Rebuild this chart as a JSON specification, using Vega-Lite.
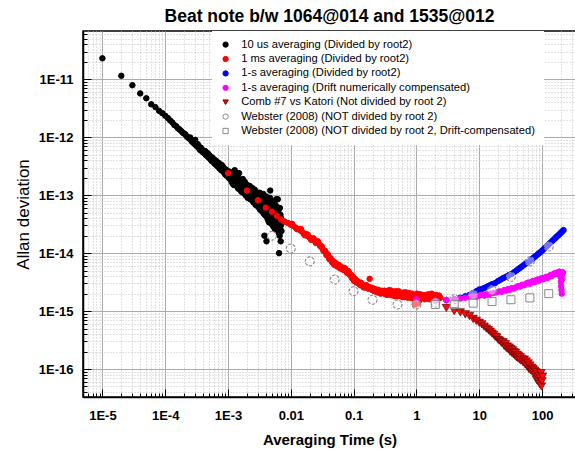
{
"$schema": "https://vega.github.io/schema/vega-lite/v6.json",
"width": 493, "height": 366,
"autosize": {"type": "none"},
"padding": {"left": 83, "top": 31, "right": 0, "bottom": 53},
"background": "white",
"title": {"text": "Beat note b/w 1064@014 and 1535@012", "font": "Liberation Sans", "fontSize": 17.5, "fontWeight": "bold", "color": "black", "anchor": "middle", "offset": 6},
"config": {"view": {"stroke": "black", "strokeWidth": 1.5},
"legend": {"fillColor": "white", "padding": 8, "labelFont": "Liberation Sans", "labelFontSize": 11.2, "labelColor": "black", "labelLimit": 400, "symbolSize": 28, "rowPadding": 2.4, "labelOffset": 10, "symbolStrokeWidth": 1}},
"datasets": {
"series": [
{"s":"A","name":"10 us averaging (Divided by root2)"},
{"s":"B","name":"1 ms averaging (Divided by root2)"},
{"s":"C","name":"1-s averaging (Divided by root2)"},
{"s":"D","name":"1-s averaging (Drift numerically compensated)"},
{"s":"E","name":"Comb #7 vs  Katori (Not divided by root 2)"},
{"s":"F","name":"Webster (2008) (NOT divided by root 2)"},
{"s":"G","name":"Webster (2008) (NOT divided by root 2, Drift-compensated)"}
],
"pts": [
{"s":"A","t":1e-5,"a":2.3e-11},{"s":"A","t":2e-5,"a":1.15e-11},{"s":"A","t":3e-5,"a":7.9e-12},{"s":"A","t":4e-5,"a":5.7e-12},{"s":"A","t":5e-5,"a":4.7e-12},{"s":"A","t":6e-5,"a":3.7e-12},{"s":"A","t":7e-5,"a":3.3e-12},{"s":"A","t":8e-5,"a":2.85e-12},{"s":"A","t":9e-5,"a":2.6e-12},{"s":"A","t":1e-4,"a":2.35e-12},
{"s":"A","t":1.1e-4,"a":2.15e-12},{"s":"A","t":1.2e-4,"a":1.95e-12},{"s":"A","t":1.3e-4,"a":1.8e-12},{"s":"A","t":1.4e-4,"a":1.62e-12},{"s":"A","t":1.5e-4,"a":1.55e-12},{"s":"A","t":1.6e-4,"a":1.42e-12},{"s":"A","t":1.7e-4,"a":1.36e-12},{"s":"A","t":1.8e-4,"a":1.28e-12},{"s":"A","t":1.9e-4,"a":1.2e-12},{"s":"A","t":2e-4,"a":1.16e-12},
{"s":"A","t":2.1e-4,"a":1.12e-12},{"s":"A","t":2.2e-4,"a":1.03e-12},{"s":"A","t":2.3e-4,"a":1.0e-12},{"s":"A","t":2.4e-4,"a":9.5e-13},{"s":"A","t":2.5e-4,"a":9.9e-13},{"s":"A","t":2.6e-4,"a":8.8e-13},{"s":"A","t":2.7e-4,"a":8.3e-13},{"s":"A","t":2.8e-4,"a":8.6e-13},{"s":"A","t":2.9e-4,"a":7.7e-13},{"s":"A","t":3e-4,"a":9.0e-13},
{"s":"A","t":3.1e-4,"a":7.2e-13},{"s":"A","t":3.2e-4,"a":7.0e-13},{"s":"A","t":3.3e-4,"a":7.6e-13},{"s":"A","t":3.4e-4,"a":6.5e-13},{"s":"A","t":3.5e-4,"a":6.8e-13},{"s":"A","t":3.6e-4,"a":6.0e-13},{"s":"A","t":3.7e-4,"a":6.6e-13},{"s":"A","t":3.8e-4,"a":6.2e-13},{"s":"A","t":3.9e-4,"a":5.6e-13},{"s":"A","t":4e-4,"a":5.9e-13},
{"s":"A","t":4.2e-4,"a":5.3e-13},{"s":"A","t":4.3e-4,"a":5.8e-13},{"s":"A","t":4.4e-4,"a":5.0e-13},{"s":"A","t":4.5e-4,"a":5.5e-13},{"s":"A","t":4.6e-4,"a":4.8e-13},{"s":"A","t":4.7e-4,"a":5.3e-13},{"s":"A","t":4.8e-4,"a":4.6e-13},{"s":"A","t":4.9e-4,"a":5.1e-13},{"s":"A","t":5e-4,"a":4.4e-13},{"s":"A","t":5.2e-4,"a":4.7e-13},
{"s":"A","t":5.3e-4,"a":4.1e-13},{"s":"A","t":5.4e-4,"a":4.6e-13},{"s":"A","t":5.5e-4,"a":3.9e-13},{"s":"A","t":5.7e-4,"a":4.4e-13},{"s":"A","t":5.8e-4,"a":3.8e-13},{"s":"A","t":6e-4,"a":4.1e-13},{"s":"A","t":6.1e-4,"a":3.5e-13},{"s":"A","t":6.2e-4,"a":4.0e-13},{"s":"A","t":6.4e-4,"a":3.4e-13},{"s":"A","t":6.5e-4,"a":3.9e-13},
{"s":"A","t":6.7e-4,"a":3.2e-13},{"s":"A","t":6.8e-4,"a":3.7e-13},{"s":"A","t":7e-4,"a":3.1e-13},{"s":"A","t":7.1e-4,"a":3.6e-13},{"s":"A","t":7.3e-4,"a":2.9e-13},{"s":"A","t":7.5e-4,"a":3.4e-13},{"s":"A","t":7.6e-4,"a":3.0e-13},{"s":"A","t":7.8e-4,"a":2.7e-13},{"s":"A","t":8e-4,"a":3.3e-13},{"s":"A","t":8.1e-4,"a":2.8e-13},
{"s":"A","t":8.3e-4,"a":3.1e-13},{"s":"A","t":8.5e-4,"a":2.5e-13},{"s":"A","t":8.6e-4,"a":2.9e-13},{"s":"A","t":8.8e-4,"a":2.6e-13},{"s":"A","t":9e-4,"a":2.3e-13},{"s":"A","t":9.1e-4,"a":2.8e-13},{"s":"A","t":9.3e-4,"a":2.2e-13},{"s":"A","t":9.5e-4,"a":2.7e-13},{"s":"A","t":9.7e-4,"a":2.3e-13},{"s":"A","t":1e-3,"a":2.6e-13},
{"s":"A","t":1.02e-3,"a":2.0e-13},{"s":"A","t":1.05e-3,"a":2.3e-13},{"s":"A","t":1.08e-3,"a":1.9e-13},{"s":"A","t":1.1e-3,"a":2.5e-13},{"s":"A","t":1.13e-3,"a":1.75e-13},{"s":"A","t":1.15e-3,"a":2.1e-13},{"s":"A","t":1.18e-3,"a":1.6e-13},{"s":"A","t":1.2e-3,"a":2.2e-13},{"s":"A","t":1.23e-3,"a":1.5e-13},{"s":"A","t":1.25e-3,"a":1.9e-13},
{"s":"A","t":1.28e-3,"a":2.7e-13},{"s":"A","t":1.3e-3,"a":1.7e-13},{"s":"A","t":1.33e-3,"a":2.3e-13},{"s":"A","t":1.35e-3,"a":1.45e-13},{"s":"A","t":1.38e-3,"a":1.9e-13},{"s":"A","t":1.4e-3,"a":1.6e-13},{"s":"A","t":1.43e-3,"a":2.1e-13},{"s":"A","t":1.45e-3,"a":1.3e-13},{"s":"A","t":1.48e-3,"a":1.7e-13},{"s":"A","t":1.5e-3,"a":2.4e-13},
{"s":"A","t":1.53e-3,"a":1.5e-13},{"s":"A","t":1.55e-3,"a":1.25e-13},{"s":"A","t":1.58e-3,"a":1.8e-13},{"s":"A","t":1.6e-3,"a":1.4e-13},{"s":"A","t":1.63e-3,"a":1.15e-13},{"s":"A","t":1.65e-3,"a":1.6e-13},{"s":"A","t":1.7e-3,"a":1.3e-13},{"s":"A","t":1.72e-3,"a":1.9e-13},{"s":"A","t":1.75e-3,"a":1.1e-13},{"s":"A","t":1.8e-3,"a":1.45e-13},
{"s":"A","t":1.83e-3,"a":1.2e-13},{"s":"A","t":1.85e-3,"a":1.7e-13},{"s":"A","t":1.9e-3,"a":1.0e-13},{"s":"A","t":1.93e-3,"a":1.35e-13},{"s":"A","t":1.95e-3,"a":1.55e-13},{"s":"A","t":2e-3,"a":1.15e-13},{"s":"A","t":2.05e-3,"a":9.0e-14},{"s":"A","t":2.1e-3,"a":1.3e-13},{"s":"A","t":2.15e-3,"a":1.05e-13},{"s":"A","t":2.2e-3,"a":1.45e-13},
{"s":"A","t":2.25e-3,"a":8.5e-14},{"s":"A","t":2.3e-3,"a":1.2e-13},{"s":"A","t":2.35e-3,"a":9.5e-14},{"s":"A","t":2.4e-3,"a":1.35e-13},{"s":"A","t":2.45e-3,"a":8.0e-14},{"s":"A","t":2.5e-3,"a":1.1e-13},{"s":"A","t":2.55e-3,"a":7.5e-14},{"s":"A","t":2.6e-3,"a":1.0e-13},{"s":"A","t":2.65e-3,"a":1.25e-13},{"s":"A","t":2.7e-3,"a":8.2e-14},
{"s":"A","t":2.75e-3,"a":6.8e-14},{"s":"A","t":2.8e-3,"a":1.15e-13},{"s":"A","t":2.85e-3,"a":9.0e-14},{"s":"A","t":2.9e-3,"a":7.0e-14},{"s":"A","t":2.95e-3,"a":1.05e-13},{"s":"A","t":3e-3,"a":8.0e-14},{"s":"A","t":3.05e-3,"a":6.2e-14},{"s":"A","t":3.1e-3,"a":9.5e-14},{"s":"A","t":3.15e-3,"a":7.2e-14},{"s":"A","t":3.2e-3,"a":1.1e-13},
{"s":"A","t":3.25e-3,"a":5.6e-14},{"s":"A","t":3.3e-3,"a":8.5e-14},{"s":"A","t":3.35e-3,"a":6.8e-14},{"s":"A","t":3.4e-3,"a":9.8e-14},{"s":"A","t":3.5e-3,"a":5.2e-14},{"s":"A","t":3.55e-3,"a":7.6e-14},{"s":"A","t":3.6e-3,"a":6.0e-14},{"s":"A","t":3.65e-3,"a":1.05e-13},{"s":"A","t":3.7e-3,"a":4.8e-14},{"s":"A","t":3.75e-3,"a":8.8e-14},
{"s":"A","t":3.8e-3,"a":2.0e-14},{"s":"A","t":3.85e-3,"a":6.5e-14},{"s":"A","t":3.9e-3,"a":4.5e-14},{"s":"A","t":3.95e-3,"a":7.8e-14},{"s":"A","t":4e-3,"a":5.4e-14},{"s":"A","t":4.05e-3,"a":9.5e-14},{"s":"A","t":4.1e-3,"a":1.6e-14},{"s":"A","t":4.15e-3,"a":4.2e-14},{"s":"A","t":4.2e-3,"a":7.0e-14},{"s":"A","t":4.25e-3,"a":5.0e-14},
{"s":"A","t":4.3e-3,"a":3.8e-14},{"s":"A","t":4.35e-3,"a":8.2e-14},{"s":"A","t":4.4e-3,"a":6.0e-14},{"s":"A","t":4.45e-3,"a":4.4e-14},{"s":"A","t":4.5e-3,"a":3.4e-14},{"s":"A","t":4.55e-3,"a":6.6e-14},{"s":"A","t":4.6e-3,"a":5.2e-14},{"s":"A","t":4.65e-3,"a":9.0e-14},{"s":"A","t":4.7e-3,"a":1.2e-13},{"s":"A","t":4.75e-3,"a":3.9e-14},
{"s":"A","t":4.8e-3,"a":4.8e-14},{"s":"A","t":4.85e-3,"a":7.4e-14},{"s":"A","t":4.9e-3,"a":3.2e-14},{"s":"A","t":4.95e-3,"a":5.8e-14},{"s":"A","t":5e-3,"a":4.2e-14},{"s":"A","t":5.05e-3,"a":8.0e-14},{"s":"A","t":5.1e-3,"a":3.6e-14},{"s":"A","t":5.15e-3,"a":6.4e-14},{"s":"A","t":5.2e-3,"a":4.6e-14},{"s":"A","t":5.25e-3,"a":2.9e-14},
{"s":"A","t":5.3e-3,"a":5.4e-14},{"s":"A","t":5.35e-3,"a":7.2e-14},{"s":"A","t":5.4e-3,"a":3.4e-14},{"s":"A","t":5.45e-3,"a":4.4e-14},{"s":"A","t":5.5e-3,"a":6.0e-14},{"s":"A","t":5.55e-3,"a":2.6e-14},{"s":"A","t":5.6e-3,"a":5.0e-14},{"s":"A","t":5.65e-3,"a":3.8e-14},{"s":"A","t":5.7e-3,"a":6.8e-14},{"s":"A","t":5.75e-3,"a":3.0e-14},
{"s":"A","t":5.8e-3,"a":4.6e-14},{"s":"A","t":5.85e-3,"a":8.5e-14},{"s":"A","t":5.9e-3,"a":3.5e-14},{"s":"A","t":5.95e-3,"a":5.5e-14},{"s":"A","t":6e-3,"a":2.5e-14},{"s":"A","t":6.05e-3,"a":4.2e-14},{"s":"A","t":6.1e-3,"a":6.2e-14},{"s":"A","t":6.15e-3,"a":3.2e-14},{"s":"A","t":6.2e-3,"a":8.5e-14},{"s":"A","t":6.25e-3,"a":4.8e-14},
{"s":"A","t":6.3e-3,"a":2.8e-14},{"s":"A","t":6.35e-3,"a":3.9e-14},{"s":"A","t":6.4e-3,"a":5.6e-14},{"s":"A","t":6.45e-3,"a":2.2e-14},{"s":"A","t":6.5e-3,"a":1.0e-14},{"s":"A","t":6.55e-3,"a":4.4e-14},{"s":"A","t":6.6e-3,"a":3.3e-14},{"s":"A","t":6.65e-3,"a":2.0e-14},{"s":"A","t":6.7e-3,"a":6.0e-14},{"s":"A","t":6.75e-3,"a":3.6e-14},
{"s":"A","t":6.8e-3,"a":2.6e-14},{"s":"A","t":6.85e-3,"a":4.6e-14},{"s":"A","t":6.9e-3,"a":1.6e-14},{"s":"A","t":6.95e-3,"a":3.0e-14},{"s":"A","t":7e-3,"a":4.0e-14},{"s":"A","t":7.1e-3,"a":2.4e-14},{"s":"A","t":7.2e-3,"a":3.4e-14},
{"s":"B","t":0.001,"a":2.4e-13},{"s":"B","t":0.002,"a":1.2e-13},{"s":"B","t":0.003,"a":8.2e-14},{"s":"B","t":0.004,"a":6.1e-14},{"s":"B","t":0.005,"a":5.2e-14},{"s":"B","t":0.006,"a":4.4e-14},{"s":"B","t":0.007,"a":3.8e-14},{"s":"B","t":0.008,"a":3.5e-14},{"s":"B","t":0.009,"a":3.3e-14},{"s":"B","t":0.01,"a":3.1e-14},
{"s":"B","t":0.011,"a":2.95e-14},{"s":"B","t":0.012,"a":2.75e-14},{"s":"B","t":0.013,"a":2.6e-14},{"s":"B","t":0.014,"a":2.5e-14},{"s":"B","t":0.015,"a":2.35e-14},{"s":"B","t":0.016,"a":2.2e-14},{"s":"B","t":0.017,"a":2.15e-14},{"s":"B","t":0.018,"a":2.0e-14},{"s":"B","t":0.019,"a":1.95e-14},{"s":"B","t":0.02,"a":1.85e-14},
{"s":"B","t":0.0105,"a":3.2e-14},{"s":"B","t":0.0125,"a":2.6e-14},{"s":"B","t":0.0145,"a":2.6e-14},{"s":"B","t":0.0165,"a":2.05e-14},{"s":"B","t":0.0185,"a":2.1e-14},{"s":"B","t":0.021,"a":1.7e-14},{"s":"B","t":0.023,"a":1.8e-14},{"s":"B","t":0.025,"a":1.5e-14},{"s":"B","t":0.027,"a":1.6e-14},{"s":"B","t":0.029,"a":1.35e-14},
{"s":"B","t":0.022,"a":1.75e-14},{"s":"B","t":0.024,"a":1.65e-14},{"s":"B","t":0.026,"a":1.55e-14},{"s":"B","t":0.028,"a":1.45e-14},{"s":"B","t":0.03,"a":1.3e-14},{"s":"B","t":0.032,"a":1.2e-14},{"s":"B","t":0.034,"a":1.1e-14},{"s":"B","t":0.036,"a":1.02e-14},{"s":"B","t":0.038,"a":9.4e-15},{"s":"B","t":0.04,"a":8.6e-15},
{"s":"B","t":0.031,"a":1.32e-14},{"s":"B","t":0.033,"a":1.1e-14},{"s":"B","t":0.035,"a":1.1e-14},{"s":"B","t":0.037,"a":9.2e-15},{"s":"B","t":0.039,"a":9.5e-15},{"s":"B","t":0.041,"a":7.9e-15},{"s":"B","t":0.043,"a":8.2e-15},{"s":"B","t":0.045,"a":7.0e-15},{"s":"B","t":0.047,"a":7.3e-15},{"s":"B","t":0.049,"a":6.3e-15},
{"s":"B","t":0.042,"a":8.0e-15},{"s":"B","t":0.044,"a":7.6e-15},{"s":"B","t":0.046,"a":7.0e-15},{"s":"B","t":0.048,"a":6.8e-15},{"s":"B","t":0.05,"a":6.5e-15},{"s":"B","t":0.053,"a":6.3e-15},{"s":"B","t":0.056,"a":6.0e-15},{"s":"B","t":0.059,"a":5.8e-15},{"s":"B","t":0.062,"a":5.9e-15},{"s":"B","t":0.065,"a":5.4e-15},
{"s":"B","t":0.0515,"a":6.8e-15},{"s":"B","t":0.0545,"a":5.9e-15},{"s":"B","t":0.0575,"a":6.3e-15},{"s":"B","t":0.0605,"a":5.5e-15},{"s":"B","t":0.0635,"a":5.6e-15},{"s":"B","t":0.067,"a":5.2e-15},{"s":"B","t":0.0725,"a":5.5e-15},{"s":"B","t":0.0785,"a":4.6e-15},{"s":"B","t":0.082,"a":4.9e-15},{"s":"B","t":0.086,"a":4.3e-15},
{"s":"B","t":0.068,"a":5.6e-15},{"s":"B","t":0.071,"a":5.1e-15},{"s":"B","t":0.074,"a":5.3e-15},{"s":"B","t":0.077,"a":4.8e-15},{"s":"B","t":0.08,"a":4.6e-15},{"s":"B","t":0.084,"a":4.7e-15},{"s":"B","t":0.088,"a":4.2e-15},{"s":"B","t":0.092,"a":4.0e-15},{"s":"B","t":0.096,"a":3.8e-15},{"s":"B","t":0.1,"a":3.5e-15},
{"s":"B","t":0.09,"a":4.3e-15},{"s":"B","t":0.094,"a":3.7e-15},{"s":"B","t":0.098,"a":3.9e-15},{"s":"B","t":0.102,"a":3.3e-15},{"s":"B","t":0.108,"a":3.4e-15},{"s":"B","t":0.112,"a":3.1e-15},{"s":"B","t":0.118,"a":3.15e-15},{"s":"B","t":0.128,"a":2.8e-15},{"s":"B","t":0.135,"a":2.95e-15},{"s":"B","t":0.145,"a":2.55e-15},
{"s":"B","t":0.105,"a":3.6e-15},{"s":"B","t":0.11,"a":3.2e-15},{"s":"B","t":0.115,"a":3.3e-15},{"s":"B","t":0.12,"a":3.0e-15},{"s":"B","t":0.125,"a":2.9e-15},{"s":"B","t":0.13,"a":3.1e-15},{"s":"B","t":0.14,"a":2.7e-15},{"s":"B","t":0.15,"a":2.6e-15},{"s":"B","t":0.16,"a":2.8e-15},{"s":"B","t":0.17,"a":2.45e-15},
{"s":"B","t":0.155,"a":2.75e-15},{"s":"B","t":0.165,"a":2.5e-15},{"s":"B","t":0.175,"a":2.6e-15},{"s":"B","t":0.195,"a":2.35e-15},{"s":"B","t":0.215,"a":2.2e-15},{"s":"B","t":0.235,"a":2.25e-15},{"s":"B","t":0.26,"a":2.15e-15},{"s":"B","t":0.29,"a":2.1e-15},{"s":"B","t":0.31,"a":2.25e-15},{"s":"B","t":0.34,"a":1.9e-15},
{"s":"B","t":0.18,"a":3.6e-15},{"s":"B","t":0.185,"a":2.4e-15},{"s":"B","t":0.19,"a":2.55e-15},{"s":"B","t":0.2,"a":2.3e-15},{"s":"B","t":0.21,"a":2.45e-15},{"s":"B","t":0.22,"a":2.2e-15},{"s":"B","t":0.23,"a":2.35e-15},{"s":"B","t":0.24,"a":2.1e-15},{"s":"B","t":0.25,"a":2.3e-15},{"s":"B","t":0.27,"a":2.0e-15},
{"s":"B","t":0.36,"a":2.15e-15},{"s":"B","t":0.38,"a":2.0e-15},{"s":"B","t":0.4,"a":2.25e-15},{"s":"B","t":0.42,"a":1.95e-15},{"s":"B","t":0.44,"a":2.05e-15},{"s":"B","t":0.46,"a":1.8e-15},{"s":"B","t":0.47,"a":2.2e-15},{"s":"B","t":0.51,"a":1.95e-15},{"s":"B","t":0.54,"a":2.1e-15},{"s":"B","t":0.57,"a":1.8e-15},
{"s":"B","t":0.28,"a":2.25e-15},{"s":"B","t":0.3,"a":2.1e-15},{"s":"B","t":0.32,"a":1.95e-15},{"s":"B","t":0.33,"a":2.2e-15},{"s":"B","t":0.35,"a":2.0e-15},{"s":"B","t":0.37,"a":2.3e-15},{"s":"B","t":0.39,"a":1.9e-15},{"s":"B","t":0.41,"a":2.1e-15},{"s":"B","t":0.43,"a":1.85e-15},{"s":"B","t":0.45,"a":2.15e-15},
{"s":"B","t":0.61,"a":2.0e-15},{"s":"B","t":0.65,"a":1.75e-15},{"s":"B","t":0.68,"a":2.1e-15},{"s":"B","t":0.72,"a":1.85e-15},{"s":"B","t":0.78,"a":1.95e-15},{"s":"B","t":0.82,"a":1.7e-15},{"s":"B","t":0.85,"a":2.0e-15},{"s":"B","t":0.92,"a":1.75e-15},{"s":"B","t":0.99,"a":1.9e-15},{"s":"B","t":1.12,"a":1.75e-15},
{"s":"B","t":0.48,"a":2.0e-15},{"s":"B","t":0.5,"a":1.8e-15},{"s":"B","t":0.52,"a":2.2e-15},{"s":"B","t":0.55,"a":1.9e-15},{"s":"B","t":0.58,"a":2.05e-15},{"s":"B","t":0.6,"a":1.75e-15},{"s":"B","t":0.63,"a":2.1e-15},{"s":"B","t":0.66,"a":1.85e-15},{"s":"B","t":0.7,"a":1.95e-15},{"s":"B","t":0.73,"a":1.7e-15},
{"s":"B","t":0.76,"a":2.05e-15},{"s":"B","t":0.8,"a":1.8e-15},{"s":"B","t":0.83,"a":1.95e-15},{"s":"B","t":0.87,"a":1.65e-15},{"s":"B","t":0.9,"a":1.9e-15},{"s":"B","t":0.95,"a":1.3e-15},{"s":"B","t":0.97,"a":1.75e-15},{"s":"B","t":1.0,"a":1.55e-15},{"s":"B","t":1.02,"a":2.0e-15},{"s":"B","t":1.05,"a":1.35e-15},
{"s":"B","t":1.08,"a":1.8e-15},{"s":"B","t":1.1,"a":1.5e-15},{"s":"B","t":1.15,"a":1.95e-15},{"s":"B","t":1.2,"a":1.7e-15},{"s":"B","t":1.3,"a":1.85e-15},{"s":"B","t":1.35,"a":1.6e-15},{"s":"B","t":1.4,"a":1.9e-15},{"s":"B","t":1.5,"a":1.7e-15},{"s":"B","t":1.55,"a":1.95e-15},{"s":"B","t":1.6,"a":1.6e-15},
{"s":"B","t":1.25,"a":1.9e-15},{"s":"B","t":1.45,"a":1.8e-15},{"s":"B","t":1.65,"a":1.75e-15},{"s":"B","t":1.75,"a":2.0e-15},{"s":"B","t":1.85,"a":1.75e-15},{"s":"B","t":1.95,"a":1.6e-15},{"s":"B","t":2.05,"a":1.9e-15},{"s":"B","t":2.25,"a":1.75e-15},
{"s":"B","t":1.7,"a":1.85e-15},{"s":"B","t":1.8,"a":1.65e-15},{"s":"B","t":1.9,"a":1.9e-15},{"s":"B","t":2.0,"a":1.7e-15},{"s":"B","t":2.1,"a":1.8e-15},{"s":"B","t":2.2,"a":1.6e-15},{"s":"B","t":2.3,"a":1.85e-15},{"s":"B","t":2.4,"a":1.7e-15},
{"s":"C","t":3,"a":1.55e-15},{"s":"C","t":4,"a":1.6e-15},{"s":"C","t":5,"a":1.7e-15},{"s":"C","t":6,"a":1.8e-15},{"s":"C","t":7,"a":1.9e-15},{"s":"C","t":8,"a":2.05e-15},{"s":"C","t":9,"a":2.2e-15},{"s":"C","t":10,"a":2.35e-15},{"s":"C","t":11,"a":2.4e-15},{"s":"C","t":12,"a":2.5e-15},
{"s":"C","t":13,"a":2.6e-15},{"s":"C","t":14,"a":2.7e-15},{"s":"C","t":15,"a":2.8e-15},{"s":"C","t":16,"a":2.9e-15},{"s":"C","t":18,"a":3.05e-15},{"s":"C","t":20,"a":3.3e-15},{"s":"C","t":22,"a":3.5e-15},{"s":"C","t":24,"a":3.7e-15},{"s":"C","t":26,"a":3.85e-15},{"s":"C","t":28,"a":4.0e-15},
{"s":"C","t":30,"a":4.2e-15},{"s":"C","t":33,"a":4.4e-15},{"s":"C","t":36,"a":4.7e-15},{"s":"C","t":39,"a":5.0e-15},{"s":"C","t":42,"a":5.3e-15},{"s":"C","t":45,"a":5.6e-15},{"s":"C","t":48,"a":5.9e-15},{"s":"C","t":52,"a":6.3e-15},{"s":"C","t":56,"a":6.7e-15},{"s":"C","t":60,"a":7.0e-15},
{"s":"C","t":64,"a":7.3e-15},{"s":"C","t":68,"a":7.8e-15},{"s":"C","t":72,"a":8.2e-15},{"s":"C","t":76,"a":8.6e-15},{"s":"C","t":80,"a":9.0e-15},{"s":"C","t":85,"a":9.5e-15},{"s":"C","t":90,"a":1.0e-14},{"s":"C","t":95,"a":1.05e-14},{"s":"C","t":100,"a":1.1e-14},{"s":"C","t":106,"a":1.17e-14},
{"s":"C","t":112,"a":1.24e-14},{"s":"C","t":118,"a":1.3e-14},{"s":"C","t":124,"a":1.37e-14},{"s":"C","t":130,"a":1.45e-14},{"s":"C","t":137,"a":1.52e-14},{"s":"C","t":144,"a":1.6e-14},{"s":"C","t":151,"a":1.68e-14},{"s":"C","t":158,"a":1.76e-14},{"s":"C","t":165,"a":1.85e-14},{"s":"C","t":172,"a":1.93e-14},
{"s":"C","t":180,"a":2.02e-14},{"s":"C","t":188,"a":2.1e-14},{"s":"C","t":196,"a":2.2e-14},{"s":"C","t":204,"a":2.3e-14},{"s":"C","t":212,"a":2.4e-14},{"s":"C","t":220,"a":2.5e-14},
{"s":"D","t":1,"a":1.6e-15},{"s":"D","t":2,"a":1.5e-15},{"s":"D","t":3,"a":1.55e-15},{"s":"D","t":4,"a":1.6e-15},{"s":"D","t":5,"a":1.65e-15},{"s":"D","t":6,"a":1.7e-15},{"s":"D","t":7,"a":1.75e-15},{"s":"D","t":8,"a":1.8e-15},{"s":"D","t":9,"a":1.75e-15},{"s":"D","t":10,"a":1.85e-15},
{"s":"D","t":11,"a":1.9e-15},{"s":"D","t":12,"a":1.85e-15},{"s":"D","t":13,"a":1.95e-15},{"s":"D","t":14,"a":1.9e-15},{"s":"D","t":15,"a":2.0e-15},{"s":"D","t":17,"a":2.05e-15},{"s":"D","t":19,"a":2.1e-15},{"s":"D","t":21,"a":2.2e-15},{"s":"D","t":23,"a":2.15e-15},{"s":"D","t":25,"a":2.3e-15},
{"s":"D","t":27,"a":2.25e-15},{"s":"D","t":29,"a":2.4e-15},{"s":"D","t":31,"a":2.35e-15},{"s":"D","t":33,"a":2.5e-15},{"s":"D","t":36,"a":2.45e-15},{"s":"D","t":39,"a":2.6e-15},{"s":"D","t":42,"a":2.7e-15},{"s":"D","t":45,"a":2.65e-15},{"s":"D","t":48,"a":2.85e-15},{"s":"D","t":52,"a":2.8e-15},
{"s":"D","t":56,"a":3.0e-15},{"s":"D","t":60,"a":3.1e-15},{"s":"D","t":64,"a":2.95e-15},{"s":"D","t":68,"a":3.2e-15},{"s":"D","t":72,"a":3.3e-15},{"s":"D","t":76,"a":3.15e-15},{"s":"D","t":80,"a":3.4e-15},{"s":"D","t":85,"a":3.5e-15},{"s":"D","t":90,"a":3.35e-15},{"s":"D","t":95,"a":3.6e-15},
{"s":"D","t":100,"a":3.7e-15},{"s":"D","t":106,"a":3.55e-15},{"s":"D","t":112,"a":3.8e-15},{"s":"D","t":118,"a":3.9e-15},{"s":"D","t":124,"a":3.75e-15},{"s":"D","t":130,"a":4.0e-15},{"s":"D","t":137,"a":4.2e-15},{"s":"D","t":144,"a":4.05e-15},{"s":"D","t":151,"a":4.3e-15},{"s":"D","t":158,"a":4.5e-15},
{"s":"D","t":165,"a":4.35e-15},{"s":"D","t":172,"a":4.6e-15},{"s":"D","t":180,"a":4.4e-15},{"s":"D","t":188,"a":4.8e-15},{"s":"D","t":194,"a":4.5e-15},{"s":"D","t":198,"a":3.8e-15},{"s":"D","t":200,"a":3.2e-15},{"s":"D","t":202,"a":2.7e-15},{"s":"D","t":204,"a":2.3e-15},{"s":"D","t":206,"a":2.0e-15},
{"s":"D","t":208,"a":3.5e-15},{"s":"D","t":210,"a":4.3e-15},{"s":"D","t":212,"a":4.7e-15},{"s":"D","t":215,"a":4.6e-15},
{"s":"E","t":3,"a":1.13e-15},{"s":"E","t":4,"a":1.0e-15},{"s":"E","t":5,"a":9.5e-16},{"s":"E","t":6,"a":8.8e-16},{"s":"E","t":7,"a":8.2e-16},{"s":"E","t":8,"a":7.3e-16},{"s":"E","t":9,"a":6.8e-16},{"s":"E","t":10,"a":6.3e-16},{"s":"E","t":11,"a":5.9e-16},{"s":"E","t":12,"a":5.4e-16},
{"s":"E","t":13,"a":5.0e-16},{"s":"E","t":14,"a":4.7e-16},{"s":"E","t":15,"a":4.4e-16},{"s":"E","t":16,"a":4.1e-16},{"s":"E","t":17,"a":3.9e-16},{"s":"E","t":18,"a":3.6e-16},{"s":"E","t":19,"a":3.5e-16},{"s":"E","t":20,"a":3.2e-16},{"s":"E","t":21,"a":3.1e-16},{"s":"E","t":22,"a":2.95e-16},
{"s":"E","t":23,"a":2.8e-16},{"s":"E","t":24,"a":2.9e-16},{"s":"E","t":25,"a":2.5e-16},{"s":"E","t":26,"a":2.7e-16},{"s":"E","t":27,"a":2.3e-16},{"s":"E","t":28,"a":2.45e-16},{"s":"E","t":29,"a":2.2e-16},{"s":"E","t":30,"a":2.35e-16},{"s":"E","t":31,"a":2.0e-16},{"s":"E","t":32,"a":2.2e-16},
{"s":"E","t":33,"a":1.9e-16},{"s":"E","t":34,"a":2.1e-16},{"s":"E","t":35,"a":1.8e-16},{"s":"E","t":36,"a":1.95e-16},{"s":"E","t":37,"a":1.7e-16},{"s":"E","t":38,"a":1.9e-16},{"s":"E","t":39,"a":1.6e-16},{"s":"E","t":40,"a":1.75e-16},{"s":"E","t":41,"a":1.55e-16},{"s":"E","t":42,"a":1.7e-16},
{"s":"E","t":44,"a":1.45e-16},{"s":"E","t":45,"a":1.6e-16},{"s":"E","t":46,"a":1.4e-16},{"s":"E","t":48,"a":1.5e-16},{"s":"E","t":50,"a":1.3e-16},{"s":"E","t":52,"a":1.45e-16},{"s":"E","t":54,"a":1.2e-16},{"s":"E","t":56,"a":1.35e-16},{"s":"E","t":58,"a":1.1e-16},{"s":"E","t":60,"a":1.25e-16},
{"s":"E","t":62,"a":1.0e-16},{"s":"E","t":64,"a":1.15e-16},{"s":"E","t":66,"a":9.5e-17},{"s":"E","t":68,"a":1.05e-16},{"s":"E","t":70,"a":9.0e-17},{"s":"E","t":72,"a":1.0e-16},{"s":"E","t":74,"a":8.4e-17},{"s":"E","t":76,"a":9.4e-17},{"s":"E","t":78,"a":7.8e-17},{"s":"E","t":80,"a":8.8e-17},
{"s":"E","t":82,"a":6.5e-17},{"s":"E","t":84,"a":8.0e-17},{"s":"E","t":86,"a":7.2e-17},{"s":"E","t":88,"a":6.0e-17},{"s":"E","t":90,"a":7.5e-17},{"s":"E","t":92,"a":5.5e-17},{"s":"E","t":94,"a":6.8e-17},{"s":"E","t":96,"a":8.5e-17},{"s":"E","t":98,"a":5.0e-17},{"s":"E","t":100,"a":6.2e-17},{"s":"E","t":102,"a":7.4e-17},
{"s":"F","t":0.005,"a":2.0e-14},{"s":"F","t":0.01,"a":1.2e-14},{"s":"F","t":0.02,"a":7.2e-15},{"s":"F","t":0.05,"a":3.5e-15},{"s":"F","t":0.1,"a":2.2e-15},{"s":"F","t":0.2,"a":1.57e-15},{"s":"F","t":0.5,"a":1.3e-15},{"s":"F","t":1,"a":1.3e-15},{"s":"F","t":2,"a":1.4e-15},{"s":"F","t":4,"a":1.6e-15},
{"s":"F","t":8,"a":1.9e-15},{"s":"F","t":16,"a":2.3e-15},{"s":"F","t":32,"a":3.9e-15},{"s":"F","t":64,"a":7.2e-15},{"s":"F","t":128,"a":1.3e-14},
{"s":"G","t":2,"a":1.3e-15},{"s":"G","t":4,"a":1.3e-15},{"s":"G","t":8,"a":1.37e-15},{"s":"G","t":16,"a":1.46e-15},{"s":"G","t":32,"a":1.57e-15},{"s":"G","t":64,"a":1.69e-15},{"s":"G","t":128,"a":2.0e-15}
],
"corner": [{"t":1e-5,"a":1e-14}]
},
"resolve": {"axis": {"x": "independent", "y": "independent"}},
"layer": [
{
"data": {"name": "corner"},
"mark": {"type": "point", "opacity": 0},
"encoding": {
"x": {"field": "t", "type": "quantitative",
"scale": {"type": "log", "domain": [4.91e-6, 347.6], "nice": false},
"axis": {"orient": "bottom", "values": [6e-6,7e-6,8e-6,9e-6,2e-5,3e-5,4e-5,5e-5,6e-5,7e-5,8e-5,9e-5,2e-4,3e-4,4e-4,5e-4,6e-4,7e-4,8e-4,9e-4,2e-3,3e-3,4e-3,5e-3,6e-3,7e-3,8e-3,9e-3,0.02,0.03,0.04,0.05,0.06,0.07,0.08,0.09,0.2,0.3,0.4,0.5,0.6,0.7,0.8,0.9,2,3,4,5,6,7,8,9,20,30,40,50,60,70,80,90,200,300],
"labels": false, "domain": false, "title": null, "grid": true, "gridColor": "#c4c4c4", "gridDash": [1,2], "gridWidth": 1, "ticks": true, "tickSize": -4, "tickColor": "black", "tickWidth": 1}},
"y": {"field": "a", "type": "quantitative",
"scale": {"type": "log", "domain": [3.29e-17, 6.81e-11], "nice": false},
"axis": {"orient": "left", "values": [4e-17,5e-17,6e-17,7e-17,8e-17,9e-17,2e-16,3e-16,4e-16,5e-16,6e-16,7e-16,8e-16,9e-16,2e-15,3e-15,4e-15,5e-15,6e-15,7e-15,8e-15,9e-15,2e-14,3e-14,4e-14,5e-14,6e-14,7e-14,8e-14,9e-14,2e-13,3e-13,4e-13,5e-13,6e-13,7e-13,8e-13,9e-13,2e-12,3e-12,4e-12,5e-12,6e-12,7e-12,8e-12,9e-12,2e-11,3e-11,4e-11,5e-11,6e-11],
"labels": false, "domain": false, "title": null, "grid": true, "gridColor": "#c4c4c4", "gridDash": [1,2], "gridWidth": 1, "ticks": true, "tickSize": -4, "tickColor": "black", "tickWidth": 1}}
}
},
{
"data": {"name": "pts"},
"transform": [{"filter": "datum.s == 'A' || datum.s == 'B' || datum.s == 'C' || datum.s == 'D'"}, {"lookup": "s", "from": {"data": {"name": "series"}, "key": "s", "fields": ["name"]}}],
"mark": {"type": "point", "filled": true, "opacity": 1, "size": 30, "strokeWidth": 1},
"encoding": {
"x": {"field": "t", "type": "quantitative",
"scale": {"type": "log", "domain": [4.91e-6, 347.6], "nice": false},
"axis": {"orient": "bottom", "values": [1e-5,1e-4,1e-3,0.01,0.1,1,10,100],
"labelExpr": "datum.value >= 0.005 ? format(datum.value, '~g') : '1E' + round(log(datum.value)/LN10)",
"labelFont": "Liberation Sans", "labelFontSize": 13, "labelFontWeight": "bold", "labelColor": "black", "labelPadding": 20, "labelFlush": false,
"domain": true, "domainColor": "black", "domainWidth": 1.5,
"grid": true, "gridColor": "#ababab", "gridWidth": 1,
"ticks": true, "tickSize": -8, "tickColor": "black", "tickWidth": 1,
"title": "Averaging Time (s)", "titleFont": "Liberation Sans", "titleFontSize": 15, "titleFontWeight": "bold", "titleColor": "black", "titlePadding": 10}},
"y": {"field": "a", "type": "quantitative",
"scale": {"type": "log", "domain": [3.29e-17, 6.81e-11], "nice": false},
"axis": {"orient": "left", "values": [1e-16,1e-15,1e-14,1e-13,1e-12,1e-11],
"labelExpr": "'1E' + round(log(datum.value)/LN10)",
"labelFont": "Liberation Sans", "labelFontSize": 13, "labelFontWeight": "bold", "labelColor": "black", "labelPadding": 18, "labelFlush": false,
"domain": true, "domainColor": "black", "domainWidth": 1.5,
"grid": true, "gridColor": "#ababab", "gridWidth": 1,
"ticks": true, "tickSize": -8, "tickColor": "black", "tickWidth": 1,
"title": "Allan deviation", "titleFont": "Liberation Sans", "titleFontSize": 17, "titleFontWeight": "normal", "titleColor": "black", "titlePadding": 6}},
"shape": {"field": "name", "type": "nominal", "title": null,
"scale": {"domain": ["10 us averaging (Divided by root2)","1 ms averaging (Divided by root2)","1-s averaging (Divided by root2)","1-s averaging (Drift numerically compensated)","Comb #7 vs  Katori (Not divided by root 2)","Webster (2008) (NOT divided by root 2)","Webster (2008) (NOT divided by root 2, Drift-compensated)"],
"range": ["circle","circle","circle","circle","triangle-down","circle","square"]},
"legend": {"orient": "none", "legendX": 129, "legendY": 0}},
"fill": {"field": "name", "type": "nominal", "title": null,
"scale": {"domain": ["10 us averaging (Divided by root2)","1 ms averaging (Divided by root2)","1-s averaging (Divided by root2)","1-s averaging (Drift numerically compensated)","Comb #7 vs  Katori (Not divided by root 2)","Webster (2008) (NOT divided by root 2)","Webster (2008) (NOT divided by root 2, Drift-compensated)"],
"range": ["#000000","#ff0000","#0000ff","#ff00ff","#ff0a0a","#ffffff","#ffffff"]},
"legend": {"orient": "none", "legendX": 129, "legendY": 0}},
"stroke": {"field": "name", "type": "nominal", "title": null,
"scale": {"domain": ["10 us averaging (Divided by root2)","1 ms averaging (Divided by root2)","1-s averaging (Divided by root2)","1-s averaging (Drift numerically compensated)","Comb #7 vs  Katori (Not divided by root 2)","Webster (2008) (NOT divided by root 2)","Webster (2008) (NOT divided by root 2, Drift-compensated)"],
"range": ["#000000","#ff0000","#0000ff","#ff00ff","#6a0000","#8a8a8a","#8a8a8a"]},
"legend": {"orient": "none", "legendX": 129, "legendY": 0}}
}
},
{
"data": {"name": "pts"},
"transform": [{"filter": "datum.s == 'E'"}, {"lookup": "s", "from": {"data": {"name": "series"}, "key": "s", "fields": ["name"]}}],
"mark": {"type": "point", "filled": true, "opacity": 1, "size": 70, "strokeWidth": 0.7},
"encoding": {
"x": {"field": "t", "type": "quantitative", "axis": null},
"y": {"field": "a", "type": "quantitative", "axis": null},
"shape": {"field": "name", "type": "nominal", "title": null},
"fill": {"field": "name", "type": "nominal", "title": null},
"stroke": {"field": "name", "type": "nominal", "title": null}
}
},
{
"data": {"name": "pts"},
"transform": [{"filter": "datum.s == 'F'"}, {"lookup": "s", "from": {"data": {"name": "series"}, "key": "s", "fields": ["name"]}}],
"mark": {"type": "point", "filled": true, "size": 80, "strokeWidth": 1.1, "strokeDash": [3, 1.5], "fillOpacity": 0.45, "strokeOpacity": 1},
"encoding": {
"x": {"field": "t", "type": "quantitative", "axis": null},
"y": {"field": "a", "type": "quantitative", "axis": null},
"shape": {"field": "name", "type": "nominal", "title": null},
"fill": {"field": "name", "type": "nominal", "title": null},
"stroke": {"field": "name", "type": "nominal", "title": null}
}
},
{
"data": {"name": "pts"},
"transform": [{"filter": "datum.s == 'G'"}, {"lookup": "s", "from": {"data": {"name": "series"}, "key": "s", "fields": ["name"]}}],
"mark": {"type": "point", "filled": true, "size": 64, "strokeWidth": 1, "fillOpacity": 0.45, "strokeOpacity": 1},
"encoding": {
"x": {"field": "t", "type": "quantitative", "axis": null},
"y": {"field": "a", "type": "quantitative", "axis": null},
"shape": {"field": "name", "type": "nominal", "title": null},
"fill": {"field": "name", "type": "nominal", "title": null},
"stroke": {"field": "name", "type": "nominal", "title": null}
}
}
]
}
